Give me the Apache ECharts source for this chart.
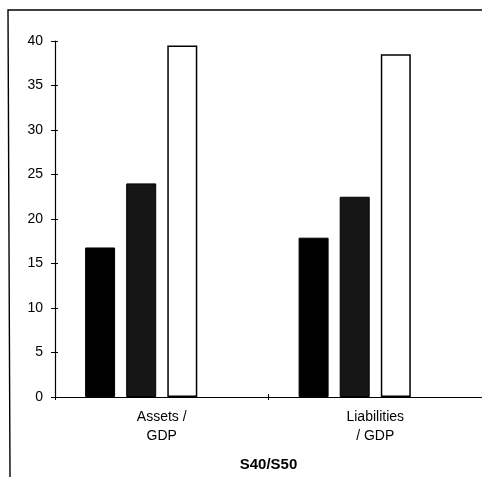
<!DOCTYPE html>
<html>
<head>
<meta charset="utf-8">
<script src="https://cdn.jsdelivr.net/npm/echarts@6/dist/echarts.min.js"></script>
<style>
  html, body { margin: 0; padding: 0; background: #fff; }
  #chart { width: 482px; height: 477px; }
</style>
</head>
<body>
<div id="chart"></div>
<script>
const categories = ["Assets /\nGDP", "Liabilities\n/ GDP"];
const seriesA = [16.8, 17.9];
const seriesB = [24.0, 22.5];
const seriesC = [39.5, 38.5];
const yTicks = [0, 5, 10, 15, 20, 25, 30, 35, 40];

const chart = echarts.init(document.getElementById("chart"));

const barBase = {
  type: "bar",
  barWidth: 30,
  barGap: "37%",
  animation: false,
};

const tickStyle = { color: "#000", width: 1 };

const option = {
  backgroundColor: "#fff",
  textStyle: { fontFamily: "Liberation Sans, Arial, sans-serif" },
  grid: {
    left: 55,
    width: 437,
    top: 41,
    bottom: 80,
  },
  graphic: [
    {
      type: "polyline",
      shape: { points: [[10, 477], [8, 10], [482, 10]] },
      style: { stroke: "#000", lineWidth: 1.4, fill: null },
      silent: true,
    },
  ],
  xAxis: [
    {
      type: "category",
      data: categories,
      name: "S40/S50",
      nameLocation: "middle",
      nameGap: 60,
      nameTextStyle: { fontSize: 15, fontWeight: "bold", color: "#000" },
      axisLine: { show: true, lineStyle: { color: "#000", width: 1 } },
      axisTick: { show: true, length: 3, lineStyle: tickStyle },
      axisLabel: { color: "#000", fontSize: 14, margin: 11, lineHeight: 19 },
    },
    {
      // inner half of the crossing ticks
      type: "category",
      data: categories,
      position: "bottom",
      axisLine: { show: false },
      axisTick: { show: true, inside: true, length: 3, lineStyle: tickStyle },
      axisLabel: { show: false },
    },
  ],
  yAxis: [
    {
      type: "value",
      min: yTicks[0],
      max: yTicks[yTicks.length - 1],
      interval: 5,
      axisLine: { show: true, lineStyle: { color: "#000", width: 1.2 } },
      axisTick: { show: true, length: 4, lineStyle: tickStyle },
      axisLabel: { color: "#000", fontSize: 14, margin: 12 },
      splitLine: { show: false },
    },
    {
      type: "value",
      position: "left",
      min: yTicks[0],
      max: yTicks[yTicks.length - 1],
      interval: 5,
      axisLine: { show: false },
      axisTick: { show: true, inside: true, length: 3, lineStyle: tickStyle },
      axisLabel: { show: false },
      splitLine: { show: false },
    },
  ],
  series: [
    Object.assign({}, barBase, {
      name: "A",
      data: seriesA,
      itemStyle: { color: "#000", borderColor: "#000", borderWidth: 1 },
    }),
    Object.assign({}, barBase, {
      name: "B",
      data: seriesB,
      itemStyle: { color: "#161616", borderColor: "#000", borderWidth: 1 },
    }),
    Object.assign({}, barBase, {
      name: "C",
      data: seriesC,
      itemStyle: { color: "#fff", borderColor: "#000", borderWidth: 1.5 },
    }),
    // empty slot, keeps the groups left of the category centre
    Object.assign({}, barBase, {
      name: "spacer",
      data: ["-", "-"],
      itemStyle: { color: "transparent" },
    }),
  ],
};

chart.setOption(option);
</script>
</body>
</html>
